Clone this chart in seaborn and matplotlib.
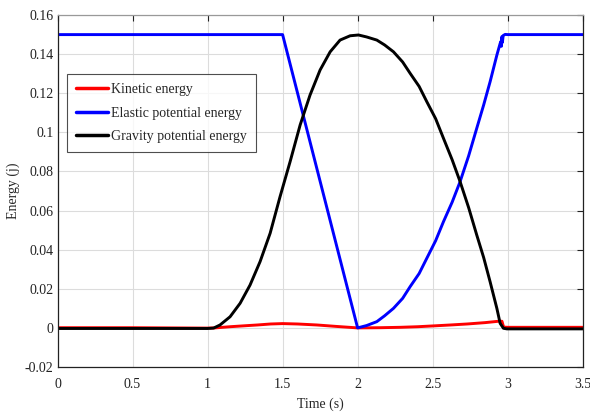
import matplotlib
matplotlib.use("Agg")
import matplotlib.pyplot as plt
import seaborn as sns

# ---- data ----
t_kin = [0, 0.5, 1.0, 1.05, 1.15, 1.25, 1.333, 1.42, 1.5, 1.6, 1.728, 1.85, 2.0, 2.15, 2.284,
         2.4, 2.5, 2.62, 2.73, 2.85, 2.94, 2.962, 2.973, 3.0, 3.5]
kinetic = [0.0001, 0.0001, -0.0001, 0.0, 0.0006, 0.0011, 0.0015, 0.0020, 0.0022, 0.0020, 0.0015,
           0.0008, 0.0, 0.0001, 0.0003, 0.0006, 0.0010, 0.0015, 0.0020, 0.0027, 0.0034, 0.0034,
           0.0004, 0.0003, 0.0003]

t_ela = [0, 1.5, 2.0, 2.06, 2.128, 2.18, 2.239, 2.3, 2.35, 2.41, 2.461, 2.52, 2.572, 2.63,
         2.683, 2.74, 2.794, 2.84, 2.883, 2.928, 2.95, 2.955, 2.958, 2.961, 2.965, 2.97, 2.983,
         3.0, 3.5]
elastic = [0.150, 0.150, 0.0, 0.0012, 0.0032, 0.0062, 0.0100, 0.0151, 0.0211, 0.0278, 0.0356,
           0.0446, 0.0543, 0.0643, 0.0748, 0.0880, 0.1021, 0.1140, 0.1259, 0.1395, 0.1455,
           0.1465, 0.1440, 0.1489, 0.1460, 0.1495, 0.1501, 0.1500, 0.1500]

t_grav = [0, 0.5, 1.0, 1.04, 1.083, 1.15, 1.217, 1.283, 1.35, 1.417, 1.483, 1.55, 1.617, 1.683,
          1.75, 1.817, 1.883, 1.95, 2.006, 2.06, 2.128, 2.18, 2.239, 2.3, 2.35, 2.41, 2.461,
          2.52, 2.572, 2.63, 2.683, 2.74, 2.794, 2.84, 2.883, 2.928, 2.95, 2.972, 2.995, 3.5]
gravity = [-0.0003, -0.0003, -0.0003, -0.0001, 0.0015, 0.0057, 0.0126, 0.0219, 0.0339, 0.0484,
           0.0671, 0.0850, 0.1038, 0.1191, 0.1319, 0.1412, 0.1472, 0.1494, 0.1498, 0.1488,
           0.1472, 0.1447, 0.1412, 0.1360, 0.1302, 0.1235, 0.1157, 0.1070, 0.0970, 0.0860,
           0.0748, 0.0615, 0.0475, 0.0360, 0.0236, 0.0100, 0.0023, -0.0002, -0.0005, -0.0005]

labels = ["Kinetic energy", "Elastic potential energy", "Gravity potential energy"]
x_ticks = [0, 0.5, 1, 1.5, 2, 2.5, 3, 3.5]
y_ticks = [-0.02, 0, 0.02, 0.04, 0.06, 0.08, 0.1, 0.12, 0.14, 0.16]
x_ticklabels = ["0", "0.5", "1", "1.5", "2", "2.5", "3", "3.5"]
y_ticklabels = ["-0.02", "0", "0.02", "0.04", "0.06", "0.08", "0.1", "0.12", "0.14", "0.16"]

sns.set_theme(style="white")
plt.rcParams["font.family"] = ["Liberation Serif", "DejaVu Serif"]
plt.rcParams["lines.solid_joinstyle"] = "round"
plt.rcParams["lines.solid_capstyle"] = "round"

fig = plt.figure(figsize=(5.9, 4.18), dpi=100)
ax = fig.add_axes([0.0975, 0.122, 0.8901, 0.842])

lw = 2.1
sns.lineplot(x=t_kin, y=kinetic, ax=ax, color="#ff0000", lw=lw, label=labels[0], sort=False, estimator=None)
sns.lineplot(x=t_ela, y=elastic, ax=ax, color="#0000ff", lw=lw, label=labels[1], sort=False, estimator=None)
sns.lineplot(x=t_grav, y=gravity, ax=ax, color="#000000", lw=lw, label=labels[2], sort=False, estimator=None)

ax.set_xlim(0, 3.5)
ax.set_ylim(-0.02, 0.16)
ax.set_xticks(x_ticks)
ax.set_xticklabels(x_ticklabels)
ax.set_yticks(y_ticks)
ax.set_yticklabels(y_ticklabels)
ax.grid(True, color="#dcdcdc", lw=0.8)
ax.set_axisbelow(True)
ax.tick_params(direction="in", length=4, width=0.8, top=True, right=True, labelsize=10,
               colors="#222222")
ax.tick_params(axis="x", pad=8)
ax.tick_params(axis="y", pad=3)
for side in ["left", "bottom", "right"]:
    ax.spines[side].set_color("#222222")
    ax.spines[side].set_linewidth(0.9)
ax.spines["top"].set_color("#999999")
ax.spines["top"].set_linewidth(0.9)

ax.set_xlabel("Time (s)", fontsize=10)
ax.set_ylabel("Energy (j)", fontsize=10)
ax.xaxis.set_label_coords(0.5, -0.088)
ax.yaxis.set_label_coords(-0.071, 0.5)

leg = ax.legend(loc="upper left", bbox_to_anchor=(0.018, 0.832), borderaxespad=0,
                frameon=True, fancybox=False, fontsize=10, handlelength=2.3,
                handletextpad=0.2, labelspacing=0.75, borderpad=0.65)
leg.get_frame().set_edgecolor("#222222")
leg.get_frame().set_linewidth(0.8)
for h in leg.get_lines():
    h.set_linewidth(2.5)

fig.savefig("out.png", dpi=100)
